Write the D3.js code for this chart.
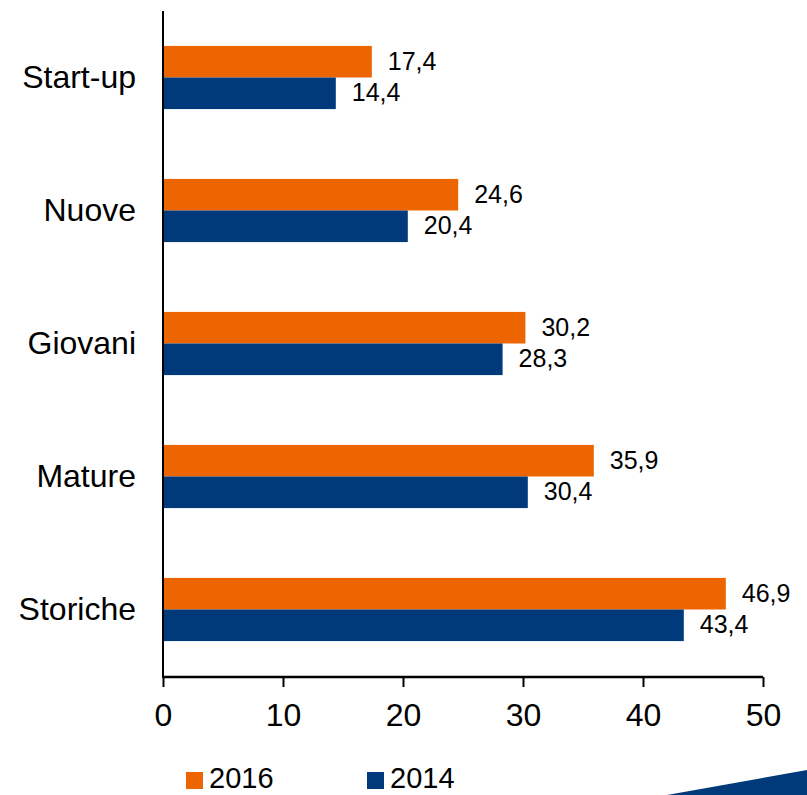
<!DOCTYPE html>
<html>
<head>
<meta charset="utf-8">
<script src="https://cdn.jsdelivr.net/npm/d3@7"></script>
<style>
  body { margin: 0; background: #fff; }
  text { font-family: 'Liberation Sans', Arial, sans-serif; fill: #000; }
</style>
</head>
<body>
<div id="chart"></div>
<script>
const categories = ['Start-up', 'Nuove', 'Giovani', 'Mature', 'Storiche']
const series = ['2016', '2014']
const values2016 = [17.4, 24.6, 30.2, 35.9, 46.9]
const values2014 = [14.4, 20.4, 28.3, 30.4, 43.4]
const xTicks = [0, 10, 20, 30, 40, 50]

const width = 807
const height = 795
const colors = { '2016': '#ec6500', '2014': '#003a7a' }
const fmt = v => d3.format('.1f')(v).replace('.', ',')

const rows = categories.map((c, i) => ({ cat: c, '2016': values2016[i], '2014': values2014[i] }))

const svg = d3.select('#chart').append('svg')
    .attr('width', width)
    .attr('height', height)

const x = d3.scaleLinear().domain([0, 50]).range([163, 763])
const y = d3.scaleBand().domain(categories).range([11, 676]).paddingInner(0.525).paddingOuter(0.2625)
const ySub = d3.scaleBand().domain(series).range([0, y.bandwidth()])

const groups = svg.append('g')
    .selectAll('g')
    .data(rows)
    .enter().append('g')
      .attr('transform', d => `translate(0,${y(d.cat)})`)

groups.selectAll('rect')
    .data(d => series.map(s => ({ s, v: d[s] })))
    .enter().append('rect')
      .attr('x', x(0))
      .attr('y', d => ySub(d.s))
      .attr('width', d => x(d.v) - x(0))
      .attr('height', ySub.bandwidth())
      .attr('fill', d => colors[d.s])

// value labels
groups.selectAll('text.val')
    .data(d => series.map(s => ({ s, v: d[s] })))
    .enter().append('text')
      .attr('class', 'val')
      .attr('x', d => x(d.v) + 16)
      .attr('y', d => ySub(d.s) + ySub.bandwidth() / 2 - 1)
      .attr('dy', '0.36em')
      .style('font-size', '25px')
      .text(d => fmt(d.v))

// category labels
svg.append('g')
    .selectAll('text')
    .data(categories)
    .enter().append('text')
      .attr('x', 136)
      .attr('y', d => y(d) + y.bandwidth() / 2 - 1)
      .attr('dy', '0.36em')
      .attr('text-anchor', 'end')
      .style('font-size', '32px')
      .text(d => d)

// y axis line
svg.append('line')
    .attr('x1', x(0)).attr('x2', x(0))
    .attr('y1', 11).attr('y2', 678)
    .attr('stroke', '#000').attr('stroke-width', 2)

// x axis
const xAxis = svg.append('g')
    .attr('transform', 'translate(0,677)')
    .call(d3.axisBottom(x).tickValues(xTicks).tickSize(10).tickPadding(16).tickFormat(d => d))
xAxis.select('.domain').attr('stroke', '#000').attr('stroke-width', 2.5)
    .attr('d', `M${x(0)},0H${x(50)}`)
xAxis.selectAll('.tick line').attr('stroke', '#000').attr('stroke-width', 2)
xAxis.selectAll('.tick text')
    .style('font-size', '32px')
    .style('font-family', "'Liberation Sans', Arial, sans-serif")
    .attr('fill', '#000')

// legend
const legendX = d3.scalePoint().domain(series).range([186, 367])
const legend = svg.append('g')
    .selectAll('g')
    .data(series)
    .enter().append('g')
      .attr('transform', d => `translate(${legendX(d)},772)`)
legend.append('rect')
    .attr('width', 17).attr('height', 17)
    .attr('fill', d => colors[d])
legend.append('text')
    .attr('x', 23).attr('y', 6)
    .attr('dy', '0.36em')
    .style('font-size', '29px')
    .text(d => d)

// decorative corner shape
svg.append('path')
    .attr('d', `M667,${height}L${width},770L${width},${height}Z`)
    .attr('fill', '#003a7a')
</script>
</body>
</html>
